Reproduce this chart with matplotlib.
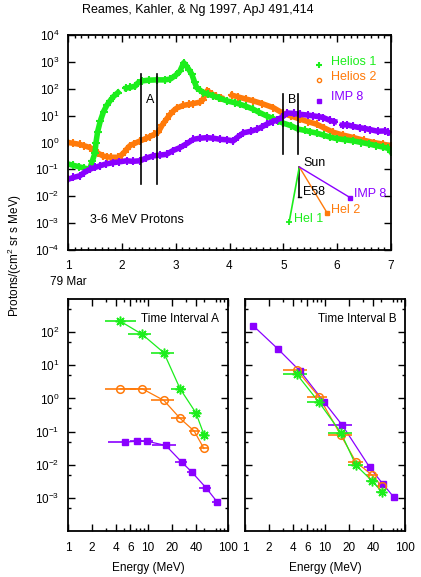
import numpy as np
import matplotlib
matplotlib.use("Agg")
from matplotlib import pyplot as plt
from matplotlib.ticker import FixedLocator, NullFormatter, LogLocator

plt.rcParams['font.family'] = ['Liberation Sans', 'DejaVu Sans']
plt.rcParams['mathtext.default'] = 'regular'
plt.rcParams['font.size'] = 8.5

GREEN = '#1cee1c'
ORANGE = '#ff7a0a'
PURPLE = '#8a00ff'

# top panel: 3-6 MeV protons, day of March 1979 vs log10(intensity); nan = data gap
hel1_day = [1.00, 1.10, 1.20, 1.30, 1.40, 1.45, 1.50, 1.52, 1.55, 1.60, 1.66, 1.72, 1.78, 1.85, 1.93, 2.00,
            2.08, 2.15, 2.25, 2.30, 2.37, 2.50, 2.65, 2.80, 2.90, 3.00, 3.08, 3.15, 3.20, 3.25, 3.30, 3.35,
            3.39, 3.45, 3.51, 3.60, 3.70, 3.80, 3.95, 4.10, 4.20, 4.30, 4.44, 4.55, 4.69, 4.80, 4.90, 5.00,
            5.15, 5.27, 5.40, 5.50, 5.62, 5.75, 5.87, 6.00, 6.15, 6.30, 6.45, 6.60, 6.73, 6.85, 6.95, 7.00]
hel1_log = [-0.80, -0.85, -0.90, -0.95, -1.00, -0.70, -0.40, 0.00, 0.40, 0.80, 1.15, 1.38, 1.55, 1.72, 1.86, np.nan,
            2.02, 2.05, 2.10, 2.22, 2.29, 2.32, 2.33, 2.33, 2.36, 2.50, 2.66, 2.97, 2.85, 2.70, 2.54, 2.25,
            2.04, 1.95, 1.86, 1.80, 1.73, 1.66, 1.55, 1.48, 1.42, 1.35, 1.24, 1.12, 0.99, 0.90, 0.80, 0.72,
            0.62, 0.50, 0.45, 0.40, 0.35, 0.27, 0.20, 0.14, 0.10, 0.06, 0.00, -0.06, -0.12, -0.17, -0.22, -0.35]

hel2_day = [1.00, 1.10, 1.22, 1.30, 1.41, 1.50, 1.56, 1.65, 1.72, 1.80, 1.93, 2.00, 2.05, 2.09, 2.15, 2.22,
            2.34, 2.45, 2.52, 2.60, 2.68, 2.75, 2.83, 2.90, 2.96, 3.02, 3.14, 3.25, 3.33, 3.45, 3.50, 3.55,
            3.58, 3.62, 3.68, 3.75, 3.85, 3.95, 4.05, 4.15, 4.30, 4.44, 4.60, 4.81, 5.00, 5.15, 5.31, 5.45,
            5.62, 5.75, 5.93, 6.10, 6.31, 6.50, 6.68, 6.85, 7.00]
hel2_log = [0.00, -0.03, -0.07, -0.12, -0.19, -0.30, -0.40, -0.50, -0.53, -0.55, -0.55, -0.45, -0.35, -0.25, -0.12, -0.05,
            0.06, 0.15, 0.22, 0.30, 0.40, 0.65, 0.87, 1.05, 1.18, 1.28, 1.38, 1.42, 1.45, 1.50, 1.58, 1.80,
            1.92, 1.88, 1.80, 1.72, 1.66, np.nan, 1.76, 1.70, 1.62, 1.55, 1.45, 1.30, 1.08, 0.98, 0.87, 0.78,
            0.68, 0.55, 0.38, 0.28, 0.18, 0.08, 0.00, -0.06, -0.13]

imp8_day = [1.00, 1.10, 1.22, 1.30, 1.41, 1.50, 1.59, 1.70, 1.84, 1.95, 2.09, 2.20, 2.34, 2.45, 2.58, 2.70,
            2.83, 2.95, 3.08, 3.20, 3.33, 3.45, 3.58, 3.70, 3.82, 3.95, 4.07, 4.15, 4.26, 4.40, 4.51, 4.60,
            4.69, 4.80, 4.88, 4.98, 5.07, 5.20, 5.31, 5.45, 5.56, 5.66, 5.74, 5.87, 5.95, 6.05, 6.10, 6.18,
            6.30, 6.42, 6.52, 6.61, 6.75, 6.89, 6.95]
imp8_log = [-1.37, -1.30, -1.24, -1.12, -0.99, -0.93, -0.87, -0.80, -0.75, -0.72, -0.68, -0.70, -0.68, -0.58, -0.50, -0.47,
            -0.44, -0.30, -0.19, -0.05, 0.12, 0.16, 0.18, 0.16, 0.12, 0.10, 0.06, 0.20, 0.36, 0.42, 0.49, 0.58,
            0.68, 0.78, 0.83, 0.95, 1.10, 1.08, 1.05, 1.02, 0.99, 0.96, 0.93, 0.82, 0.78, np.nan, 0.65, 0.66,
            0.60, 0.55, 0.52, 0.48, 0.42, 0.43, 0.38]

# interval markers
interval_a = [2.356, 2.66]
interval_b = [4.995, 5.27]

# spacecraft position sketch (day, log10) - sun, then Hel 1, Hel 2, IMP 8
sun_pos = (5.297, -0.91)
hel1_pos = (5.11, -2.94)
hel2_pos = (5.82, -2.64)
imp8_pos = (6.24, -2.05)
e58_end = -2.02

# spectra: energy (MeV), intensity, energy bin (lo, hi)
a_hel1_e = [4.5, 8.5, 15.8, 25.2, 39.6, 50.3]
a_hel1_v = [214, 85, 23.8, 1.95, 0.37, 0.079]
a_hel1_lo = [2.9, 5.7, 10.8, 19.2, 32.6, 43]
a_hel1_hi = [7.0, 10.8, 21, 30, 45.7, 57]
a_hel2_e = [4.5, 8.5, 15.8, 25.2, 37.7, 50]
a_hel2_v = [1.95, 1.95, 0.87, 0.25, 0.104, 0.031]
a_hel2_lo = [2.9, 6.0, 10.8, 19.5, 32.6, 44]
a_hel2_hi = [7.0, 10.8, 21, 30, 45, 56]
a_imp8_e = [5.1, 7.2, 9.8, 16.7, 26.4, 35.3, 52.9, 72.7]
a_imp8_v = [0.048, 0.051, 0.051, 0.038, 0.012, 0.006, 0.00204, 0.00077]
a_imp8_lo = [3.2, 6.0, 8.0, 11.3, 22, 30.5, 44, 64]
a_imp8_hi = [5.7, 8.5, 11.5, 22.6, 31, 40, 62, 82]

b_hel1_e = [4.46, 8.4, 15.8, 24.4, 39, 51]
b_hel1_v = [5.3, 0.77, 0.093, 0.0096, 0.0032, 0.00155]
b_hel1_lo = [3.0, 6.0, 11, 19.5, 32.6, 44]
b_hel1_hi = [6.0, 10.5, 22, 30, 45.7, 54]
b_hel2_e = [4.46, 8.4, 15.8, 24.4, 39, 51]
b_hel2_v = [7.1, 1.12, 0.077, 0.012, 0.0048, 0.0023]
b_hel2_lo = [3.0, 6.0, 11, 19.5, 32.6, 44]
b_hel2_hi = [6.0, 10.5, 22, 30, 45.7, 56]
b_imp8_e = [1.26, 2.62, 4.9, 9.8, 16.5, 36, 53, 72]
b_imp8_v = [158, 30, 6.6, 0.77, 0.154, 0.0085, 0.0026, 0.00107]
b_imp8_lo = [1.26, 2.4, 4.5, 9.0, 11, 31, 46, 72]
b_imp8_hi = [1.26, 2.9, 5.4, 10.8, 22, 40, 58, 72]

fig = plt.figure(figsize=(4.21, 5.77), dpi=100)
fig.text(82 / 421, 1 - 10 / 577, 'Reames, Kahler, & Ng 1997, ApJ 491,414', ha='left', va='center', fontsize=9)


def style_axes(ax):
    for s in ax.spines.values():
        s.set_linewidth(1.3)
    ax.tick_params(which='both', direction='in', top=True, right=True, width=1)
    ax.tick_params(which='major', length=5)
    ax.tick_params(which='minor', length=2.5)


# ---- top panel ----
ax = fig.add_axes([68 / 421, 1 - 250 / 577, 323 / 421, 215 / 577])
ax.set_yscale('log')
ax.set_xlim(1, 7)
ax.set_ylim(1e-4, 1e4)
for d, lg, c in [(hel2_day, hel2_log, ORANGE), (hel1_day, hel1_log, GREEN), (imp8_day, imp8_log, PURPLE)]:
    v = 10 ** np.array(lg)
    ax.plot(d, v, color=c, lw=4, zorder=2)
    ax.plot(d, v, ls='none', marker='+', ms=6, mew=1.5, color=c, zorder=2)

for x in interval_a:
    ax.plot([x, x], [10 ** 2.55, 10 ** -1.55], color='k', lw=1.2, zorder=3)
for x in interval_b:
    ax.plot([x, x], [10 ** 1.8, 10 ** -0.43], color='k', lw=1.2, zorder=3)
ax.text(2.52, 10 ** 1.58, 'A', ha='center', va='center', fontsize=9)
ax.text(5.16, 10 ** 1.58, 'B', ha='center', va='center', fontsize=9)

# position sketch
sx, sy = sun_pos
ax.plot([sx, sx], [10 ** sy, 10 ** e58_end], color='k', lw=1.2)
ax.plot([sx - 0.03, sx + 0.03], [10 ** e58_end, 10 ** e58_end], color='k', lw=1)
ax.plot([sx, hel1_pos[0]], [10 ** sy, 10 ** hel1_pos[1]], color=GREEN, lw=1.2)
ax.plot(hel1_pos[0], 10 ** hel1_pos[1], marker='+', ms=4, mew=1.3, color=GREEN)
ax.plot([sx, hel2_pos[0]], [10 ** sy, 10 ** hel2_pos[1]], color=ORANGE, lw=1)
ax.plot(hel2_pos[0], 10 ** hel2_pos[1], marker='s', ms=3, color=ORANGE)
ax.plot([sx, imp8_pos[0]], [10 ** sy, 10 ** imp8_pos[1]], color=PURPLE, lw=1)
ax.plot(imp8_pos[0], 10 ** imp8_pos[1], marker='s', ms=3, color=PURPLE)
ax.text(5.38, 10 ** -0.78, 'Sun', ha='left', va='center', fontsize=9)
ax.text(5.37, 10 ** -1.86, 'E58', ha='left', va='center', fontsize=9)
ax.text(5.2, 10 ** -2.83, 'Hel 1', ha='left', va='center', fontsize=9, color=GREEN)
ax.text(5.89, 10 ** -2.53, 'Hel 2', ha='left', va='center', fontsize=9, color=ORANGE)
ax.text(6.31, 10 ** -1.93, 'IMP 8', ha='left', va='center', fontsize=9, color=PURPLE)
ax.text(1.41, 10 ** -2.89, '3-6 MeV Protons', ha='left', va='center', fontsize=9)

# legend
leg = [('Helios 1', GREEN, '+', 3.0), ('Helios 2', ORANGE, 'o', 2.45), ('IMP 8', PURPLE, 's', 1.68)]
for name, c, m, lg in leg:
    if m == 'o':
        ax.plot(5.67, 10 ** (lg - 0.12), marker='o', ms=3, mfc='none', mew=1, color=c)
    elif m == 's':
        ax.plot(5.67, 10 ** (lg - 0.12), marker='s', ms=3, color=c)
    else:
        ax.plot(5.67, 10 ** (lg - 0.12), marker='+', ms=4, mew=1.5, color=c)
    ax.text(5.88, 10 ** lg, name, color=c, ha='left', va='center', fontsize=9)

ax.xaxis.set_major_locator(FixedLocator([1, 2, 3, 4, 5, 6, 7]))
ax.xaxis.set_minor_locator(FixedLocator(np.arange(1, 7.001, 0.125)))
ax.yaxis.set_major_locator(FixedLocator([10.0 ** k for k in range(-4, 5)]))
ax.yaxis.set_minor_locator(FixedLocator([]))
ax.set_yticklabels(['$10^{%d}$' % k for k in range(-4, 5)])
style_axes(ax)
ax.tick_params(axis='x', pad=7)
ax.tick_params(axis='y', pad=6)
fig.text(50 / 421, 1 - 282 / 577, '79 Mar', ha='left', va='center', fontsize=8.5)

fig.text(15 / 421, 1 - 255 / 577, 'Protons/(cm$^{2}$ sr s MeV)', rotation=90, ha='center', va='center', fontsize=8.5)


# ---- spectra ----
def spectrum(ax, e, v, lo, hi, c, m):
    e = np.array(e)
    xerr = [e - np.array(lo), np.array(hi) - e]
    ax.plot(e, v, color=c, lw=0.9, zorder=2)
    ax.errorbar(e, v, xerr=xerr, fmt='none', ecolor=c, elinewidth=1.2, capsize=0, zorder=2)
    if m == 'o':
        ax.plot(e, v, ls='none', marker='o', ms=5.5, mfc='none', mew=1.1, color=c, zorder=3)
    elif m == 'star':
        ax.plot(e, v, ls='none', marker=(8, 2, 0), ms=7, mew=1.1, color=c, zorder=3)
    else:
        ax.plot(e, v, ls='none', marker='s', ms=5, color=c, zorder=3)


panels = [
    (68, 'Time Interval A',
     [(a_hel1_e, a_hel1_v, a_hel1_lo, a_hel1_hi, GREEN, 'star'),
      (a_hel2_e, a_hel2_v, a_hel2_lo, a_hel2_hi, ORANGE, 'o'),
      (a_imp8_e, a_imp8_v, a_imp8_lo, a_imp8_hi, PURPLE, 's')]),
    (245, 'Time Interval B',
     [(b_imp8_e, b_imp8_v, b_imp8_lo, b_imp8_hi, PURPLE, 's'),
      (b_hel2_e, b_hel2_v, b_hel2_lo, b_hel2_hi, ORANGE, 'o'),
      (b_hel1_e, b_hel1_v, b_hel1_lo, b_hel1_hi, GREEN, 'star')]),
]
for left, title, series in panels:
    bx = fig.add_axes([left / 421, 1 - 531 / 577, 160 / 421, 232 / 577])
    bx.set_xscale('log')
    bx.set_yscale('log')
    bx.set_xlim(1, 100)
    bx.set_ylim(1e-4, 1e3)
    for s in series:
        spectrum(bx, *s)
    bx.text(0.455, 0.912, title, transform=bx.transAxes, ha='left', va='center', fontsize=8.5)
    bx.xaxis.set_major_locator(FixedLocator([1, 2, 4, 6, 10, 20, 40, 100]))
    bx.set_xticklabels(['1', '2', '4', '6', '10', '20', '40', '100'])
    bx.xaxis.set_minor_locator(LogLocator(base=10, subs=(3, 5, 7, 8, 9)))
    bx.xaxis.set_minor_formatter(NullFormatter())
    bx.yaxis.set_major_locator(FixedLocator([10.0 ** k for k in range(-3, 3)]))
    bx.yaxis.set_minor_locator(FixedLocator([5 * 10.0 ** k for k in range(-4, 3)]))
    bx.yaxis.set_minor_formatter(NullFormatter())
    if left == 68:
        bx.set_yticklabels(['$10^{%d}$' % k for k in range(-3, 3)])
    else:
        bx.set_yticklabels([])
    style_axes(bx)
    bx.tick_params(axis='x', pad=8)
    bx.tick_params(axis='y', pad=6)
    bx.set_xlabel('Energy (MeV)', fontsize=8.5, labelpad=6)

fig.savefig('out.png', dpi=100)
